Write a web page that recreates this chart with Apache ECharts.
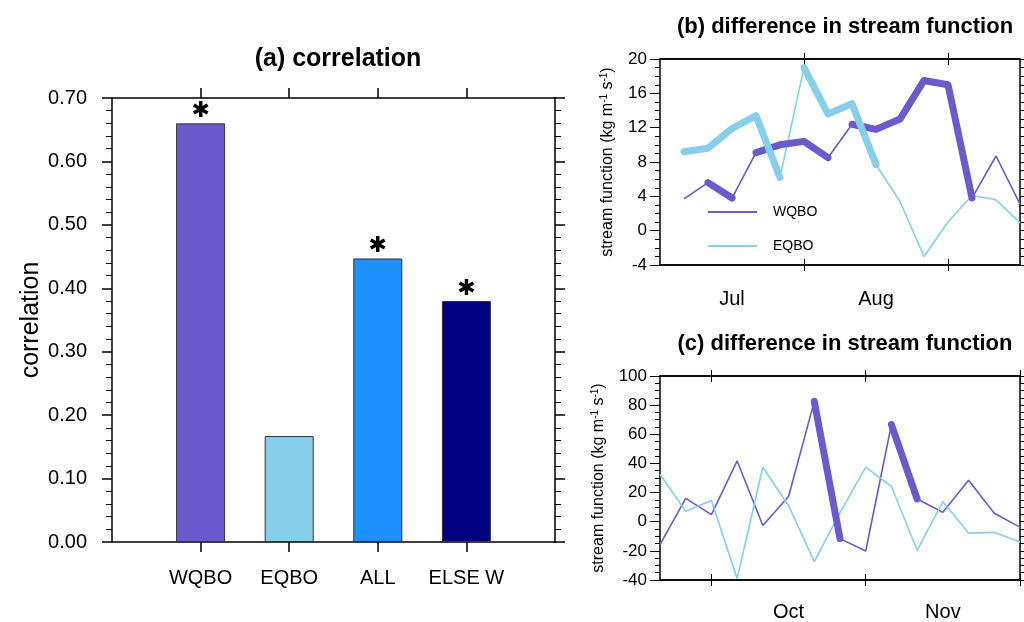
<!DOCTYPE html>
<html>
<head>
<meta charset="utf-8">
<script src="https://cdn.jsdelivr.net/npm/echarts@6/dist/echarts.min.js"></script>
<style>
  html, body { margin: 0; padding: 0; background: #fff; }
  #chart { width: 1024px; height: 622px; }
</style>
</head>
<body>
<div id="chart"></div>
<script>
// (a) correlation bars
const aCategories = ['WQBO', 'EQBO', 'ALL', 'ELSE W'];
const aPositions = [1, 2, 3, 4];
const aCorrelation = [0.66, 0.167, 0.447, 0.38];
const aSignificant = [true, false, true, true];

// (b) Jul-Aug pentads
const bPentad = [1, 2, 3, 4, 5, 6, 7, 8, 9, 10, 11, 12, 13, 14, 15];
const bWQBO = [3.7, 5.6, 3.8, 9.1, 10.0, 10.4, 8.5, 12.4, 11.8, 13.0, 17.5, 17.0, 3.8, 8.7, 3.1];
const bEQBO = [9.2, 9.6, 11.9, 13.4, 6.2, 19.0, 13.6, 14.8, 7.7, 3.4, -3.0, 1.0, 4.1, 3.6, 0.9];
const bWQBOSig = [0, 1, 0, 1, 1, 1, 0, 1, 1, 1, 1, 1, 0, 0];
const bEQBOSig = [1, 1, 1, 1, 0, 1, 1, 1, 0, 0, 0, 0, 0, 0];
const bMonthTicks = [6, 12];
const bMonthLabelPos = [3, 9];
const bMonthLabels = ['Jul', 'Aug'];

// (c) Sep-Nov pentads
const cPentad = [0, 1, 2, 3, 4, 5, 6, 7, 8, 9, 10, 11, 12, 13, 14];
const cWQBO = [-15.7, 16.0, 4.9, 41.7, -2.6, 17.3, 82.6, -11.6, -20.1, 66.7, 15.6, 6.5, 28.5, 5.8, -3.7];
const cEQBO = [32.6, 7.2, 14.5, -38.9, 37.4, 11.0, -27.4, 6.0, 37.4, 24.2, -19.6, 13.8, -7.8, -7.3, -13.9];
const cWQBOSig = [0, 0, 0, 0, 0, 0, 1, 0, 0, 1, 0, 0, 0, 0];
const cMonthTicks = [2, 8, 14];
const cMonthLabelPos = [5, 11];
const cMonthLabels = ['Oct', 'Nov'];

const FONT = 'Liberation Sans';
const W_COLOR = '#6A5ACD';
const E_COLOR = '#87CEEB';
const barColors = ['#6A5ACD', '#87CEEB', '#1E90FF', '#000080'];

const line = { show: true, onZero: false, lineStyle: { color: '#000', width: 1.5 } };

function pairs(xs, ys) {
  return xs.map((x, i) => [x, ys[i]]);
}

// split significant segments into runs of points
function sigRuns(xs, ys, flags) {
  const runs = [];
  let cur = null;
  flags.forEach((f, i) => {
    if (f) {
      if (!cur) { cur = [[xs[i], ys[i]]]; runs.push(cur); }
      cur.push([xs[i + 1], ys[i + 1]]);
    } else {
      cur = null;
    }
  });
  return runs;
}

function xAxes(grid, min, max, ticks, labelPos, labels, margin) {
  const base = {
    type: 'value', gridIndex: grid, min: min, max: max,
    axisLine: line, splitLine: { show: false }
  };
  const tick = inside => ({ customValues: ticks, inside: inside, length: 6, lineStyle: { color: '#000', width: 1 } });
  return [
    Object.assign({}, base, {
      position: 'bottom', axisTick: tick(false),
      axisLabel: {
        customValues: labelPos, margin: margin, fontFamily: FONT, fontSize: 20, color: '#000',
        formatter: v => labels[labelPos.indexOf(v)]
      }
    }),
    Object.assign({}, base, { position: 'bottom', axisTick: tick(true), axisLabel: { show: false } }),
    Object.assign({}, base, { position: 'top', axisTick: tick(false), axisLabel: { show: false } }),
    Object.assign({}, base, { position: 'top', axisTick: tick(true), axisLabel: { show: false } })
  ];
}

const nameRich = {
  sup: { fontFamily: FONT, fontSize: 10, verticalAlign: 'top', padding: [0, 0, 7, 0], color: '#000' }
};

function yAxes(grid, min, max, interval, nameGap) {
  const base = {
    type: 'value', gridIndex: grid, min: min, max: max, interval: interval,
    axisLine: line, splitLine: { show: false },
    axisTick: { inside: false, length: 10, lineStyle: { color: '#000', width: 1 } },
    minorTick: { show: true, splitNumber: 4, length: 5, lineStyle: { color: '#000', width: 1 } }
  };
  return [
    Object.assign({}, base, {
      position: 'left',
      axisLabel: { margin: 13, fontFamily: FONT, fontSize: 17, color: '#000' },
      name: 'stream function (kg m{sup|-1} s{sup|-1})',
      nameLocation: 'middle', nameRotate: 90, nameGap: nameGap,
      nameTextStyle: { fontFamily: FONT, fontSize: 16, color: '#000', rich: nameRich }
    }),
    Object.assign({}, base, { position: 'right', axisLabel: { show: false } })
  ];
}

const series = [];

// (a)
series.push({
  type: 'bar', xAxisIndex: 0, yAxisIndex: 0, barWidth: 49,
  data: aPositions.map((x, i) => ({
    value: [x, aCorrelation[i]],
    itemStyle: { color: barColors[i], borderColor: '#333', borderWidth: 1 }
  })),
  label: {
    show: true, position: 'top', distance: 1,
    fontFamily: 'DejaVu Sans', fontSize: 22, fontWeight: 'bold', color: '#000',
    formatter: p => aSignificant[p.dataIndex] ? '\u2731' : ''
  }
});

function addLines(xIdx, yIdx, xs, w, e, wSig, eSig, name) {
  series.push({
    name: name ? 'WQBO' : 'W', type: 'line', xAxisIndex: xIdx, yAxisIndex: yIdx,
    data: pairs(xs, w), showSymbol: false, lineStyle: { color: W_COLOR, width: 1.6 },
    itemStyle: { color: W_COLOR }, z: 2
  });
  series.push({
    name: name ? 'EQBO' : 'E', type: 'line', xAxisIndex: xIdx, yAxisIndex: yIdx,
    data: pairs(xs, e), showSymbol: false, lineStyle: { color: E_COLOR, width: 1.6 },
    itemStyle: { color: E_COLOR }, z: 2
  });
  sigRuns(xs, w, wSig).forEach(run => series.push({
    type: 'line', xAxisIndex: xIdx, yAxisIndex: yIdx, data: run, showSymbol: false,
    lineStyle: { color: W_COLOR, width: 7, cap: 'round', join: 'round' }, z: 3
  }));
  if (eSig) {
    sigRuns(xs, e, eSig).forEach(run => series.push({
      type: 'line', xAxisIndex: xIdx, yAxisIndex: yIdx, data: run, showSymbol: false,
      lineStyle: { color: E_COLOR, width: 7, cap: 'round', join: 'round' }, z: 4
    }));
  }
}

addLines(2, 2, bPentad, bWQBO, bEQBO, bWQBOSig, bEQBOSig, true);
addLines(6, 4, cPentad, cWQBO, cEQBO, cWQBOSig, null, false);

const option = {
  animation: false,
  backgroundColor: '#fff',
  textStyle: { fontFamily: FONT },
  title: [
    { text: '(a) correlation', left: 333, top: 42, textAlign: 'center',
      textStyle: { fontFamily: FONT, fontSize: 25, fontWeight: 'bold', color: '#000' } },
    { text: '(b) difference in stream function', left: 840, top: 11, textAlign: 'center',
      textStyle: { fontFamily: FONT, fontSize: 22, fontWeight: 'bold', color: '#000' } },
    { text: '(c) difference in stream function', left: 840, top: 328, textAlign: 'center',
      textStyle: { fontFamily: FONT, fontSize: 22, fontWeight: 'bold', color: '#000' } }
  ],
  legend: {
    data: ['WQBO', 'EQBO'], orient: 'vertical', left: 708, top: 205,
    icon: 'rect', itemWidth: 49, itemHeight: 2, itemGap: 20, padding: 0,
    selectedMode: false,
    textStyle: { fontFamily: FONT, fontSize: 14, color: '#000', padding: [0, 0, 0, 11] }
  },
  grid: [
    { left: 112, top: 98, width: 443, height: 444 },
    { left: 660, top: 59, width: 360, height: 206 },
    { left: 660, top: 376, width: 360, height: 206 }
  ],
  xAxis: [
    {
      type: 'value', gridIndex: 0, min: 0, max: 5, position: 'bottom',
      axisLine: line, splitLine: { show: false },
      axisTick: { customValues: aPositions, inside: false, length: 10, lineStyle: { color: '#000', width: 1.5 } },
      axisLabel: {
        customValues: aPositions, margin: 26, fontFamily: FONT, fontSize: 20, color: '#000',
        formatter: v => aCategories[aPositions.indexOf(v)]
      }
    },
    {
      type: 'value', gridIndex: 0, min: 0, max: 5, position: 'top',
      axisLine: line, splitLine: { show: false },
      axisTick: { customValues: aPositions, inside: false, length: 10, lineStyle: { color: '#000', width: 1.5 } },
      axisLabel: { show: false }
    }
  ].concat(
    xAxes(1, 0, 15, bMonthTicks, bMonthLabelPos, bMonthLabels, 24),
    xAxes(2, 0, 14, cMonthTicks, cMonthLabelPos, cMonthLabels, 22)
  ),
  yAxis: [
    {
      type: 'value', gridIndex: 0, min: 0, max: 0.7, interval: 0.1, position: 'left',
      axisLine: line, splitLine: { show: false },
      axisTick: { inside: false, length: 10, lineStyle: { color: '#000', width: 1.5 } },
      minorTick: { show: true, splitNumber: 5, length: 6, lineStyle: { color: '#000', width: 1 } },
      axisLabel: { margin: 25, fontFamily: FONT, fontSize: 20, color: '#000', formatter: v => v.toFixed(2) },
      name: 'correlation', nameLocation: 'middle', nameRotate: 90, nameGap: 68,
      nameTextStyle: { fontFamily: FONT, fontSize: 25, color: '#000' }
    },
    {
      type: 'value', gridIndex: 0, min: 0, max: 0.7, interval: 0.1, position: 'right',
      axisLine: line, splitLine: { show: false },
      axisTick: { inside: false, length: 10, lineStyle: { color: '#000', width: 1.5 } },
      minorTick: { show: true, splitNumber: 5, length: 6, lineStyle: { color: '#000', width: 1 } },
      axisLabel: { show: false }
    }
  ].concat(
    yAxes(1, -4, 20, 4, 44),
    yAxes(2, -40, 100, 20, 53)
  ),
  series: series
};

const chart = echarts.init(document.getElementById('chart'));
chart.setOption(option);
</script>
</body>
</html>
